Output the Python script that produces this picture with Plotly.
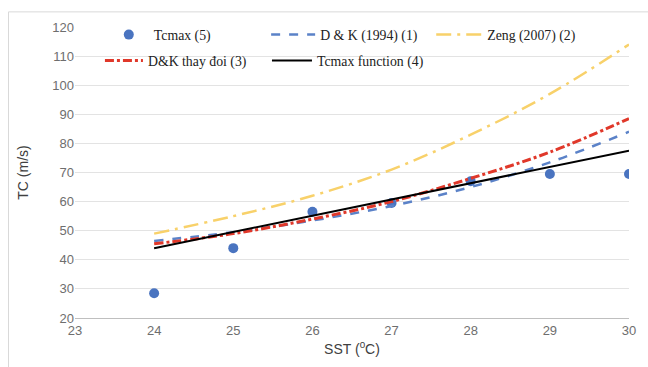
import plotly.graph_objects as go

sst = [24, 25, 26, 27, 28, 29, 30]
tcmax_obs = [28.5, 44.0, 56.5, 59.5, 67.0, 69.5, 69.5]
dk_1994 = [46.5, 49.5, 53.5, 58.5, 65.0, 73.5, 84.0]
zeng_2007 = [49.0, 55.0, 62.0, 71.0, 83.0, 97.0, 114.0]
dk_modified = [45.5, 49.0, 54.0, 60.0, 68.0, 77.0, 88.5]
tcmax_func = [44.0, 49.6, 55.2, 60.8, 66.4, 72.0, 77.5]

x_ticks = [23, 24, 25, 26, 27, 28, 29, 30]
y_ticks = [20, 30, 40, 50, 60, 70, 80, 90, 100, 110, 120]

fig = go.Figure()
fig.add_trace(go.Scatter(x=sst, y=tcmax_obs, mode="markers", name="Tcmax (5)", showlegend=True,
                         marker=dict(color="#4A74C0", size=10), legend="legend"))
fig.add_trace(go.Scatter(x=sst, y=dk_1994, mode="lines", name="D & K (1994) (1)", showlegend=True,
                         line=dict(color="#5B82C8", width=2.5, dash="dash", shape="spline"),
                         legend="legend2"))
fig.add_trace(go.Scatter(x=sst, y=zeng_2007, mode="lines", name="Zeng (2007) (2)", showlegend=True,
                         line=dict(color="#F8D16A", width=2.5, dash="longdashdot", shape="spline"),
                         legend="legend3"))
fig.add_trace(go.Scatter(x=sst, y=dk_modified, mode="lines", name="D&K thay đoi (3)", showlegend=True,
                         line=dict(color="#E0382A", width=3, dash="dashdot", shape="spline"),
                         legend="legend4"))
fig.add_trace(go.Scatter(x=sst, y=tcmax_func, mode="lines", name="Tcmax function (4)", showlegend=True,
                         line=dict(color="#000000", width=2),
                         legend="legend5"))

legend_font = dict(family="Liberation Serif, Times New Roman, serif", size=13.8, color="#222222")


def leg(x, y, iw):
    return dict(orientation="h", x=x, y=y, xanchor="left", yanchor="top", visible=True,
                itemwidth=iw, font=legend_font, bgcolor="rgba(0,0,0,0)")


row1, row2 = 1.027, 0.938
fig.update_layout(
    width=648, height=367,
    showlegend=True,
    margin=dict(l=75, r=16, t=27, b=49),
    paper_bgcolor="white", plot_bgcolor="white",
    legend=leg(0.052, row1, 40),
    legend2=leg(0.345, row1, 44),
    legend3=leg(0.643, row1, 46),
    legend4=leg(0.045, row2, 38),
    legend5=leg(0.3465, row2, 40),
    xaxis=dict(range=[23, 30], tickvals=x_ticks, showgrid=False,
               showline=True, linecolor="#BFBFBF", linewidth=1,
               ticks="", tickfont=dict(family="Liberation Sans", size=13, color="#6E6E6E"),
               title=dict(text="SST (<sup>0</sup>C)", font=dict(family="Liberation Sans", size=14, color="#404040"),
                          standoff=7),
               zeroline=False),
    yaxis=dict(range=[20, 120], tickvals=y_ticks, showgrid=True, gridcolor="#E3E3E3",
               gridwidth=1, showline=False, ticks="",
               tickfont=dict(family="Liberation Sans", size=13, color="#6E6E6E"),
               title=dict(text="TC (m/s)", font=dict(family="Liberation Sans", size=14, color="#404040"),
                          standoff=20),
               zeroline=False),
    shapes=[dict(type="rect", xref="paper", yref="paper", x0=-0.12, x1=1.2, y0=-0.4, y1=1.052,
                 line=dict(color="#D9D9D9", width=1), fillcolor="rgba(0,0,0,0)", layer="below")],
)

fig.write_html("out.html")
